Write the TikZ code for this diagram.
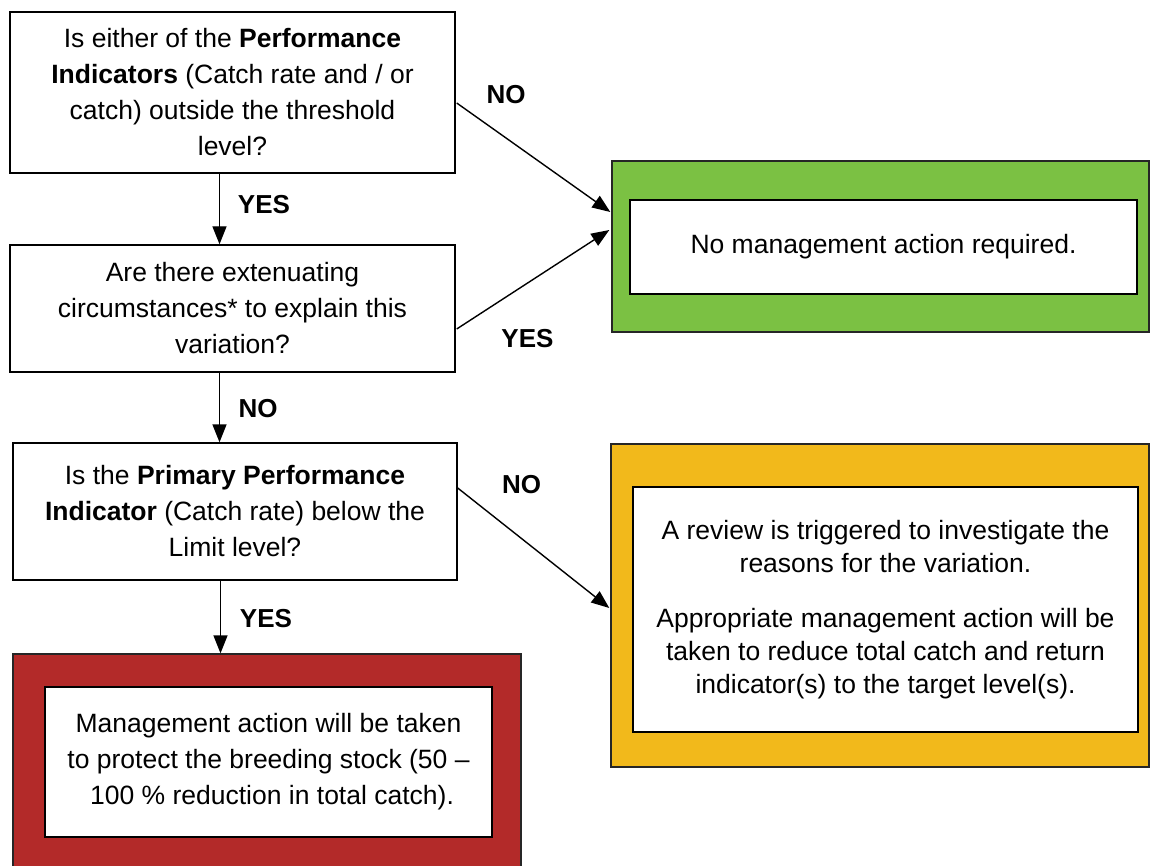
\documentclass[tikz,border=0pt]{standalone}
\usepackage{fontspec}
\setmainfont{Liberation Sans}
\usetikzlibrary{arrows.meta,calc}
\definecolor{gfill}{RGB}{123,193,67}
\definecolor{ofill}{RGB}{242,185,27}
\definecolor{rfill}{RGB}{179,42,41}
\begin{document}
\begin{tikzpicture}[x=1pt,y=-1pt,
  txt/.style={font=\fontsize{26.5}{36}\selectfont, align=center, text=black},
  qbox/.style={txt, draw=black, line width=1.4pt, fill=white, inner sep=0pt},
  outerbox/.style={draw=black!85, line width=1.4pt, inner sep=0pt},
  lbl/.style={font=\fontsize{26}{28}\selectfont\bfseries, inner sep=0pt},
  arr/.style={line width=1.4pt, -{Triangle[length=18pt,width=14pt]}}]
\useasboundingbox (0,0) rectangle (1150,866);
% question boxes
\node[qbox, minimum width=445pt, minimum height=161pt] (b1) at (232.5,92.5)
  {Is either of the \textbf{Performance}\\ \textbf{Indicators} (Catch rate and / or\\ catch) outside the threshold\\ level?};
\node[qbox, minimum width=445pt, minimum height=127pt] (b2) at (232.5,308.5)
  {Are there extenuating\\ circumstances* to explain this\\ variation?};
\node[qbox, minimum width=444pt, minimum height=137pt] (b3) at (235,511.5)
  {Is the \textbf{Primary Performance}\\ \textbf{Indicator} (Catch rate) below the\\ Limit level?};
% outcome boxes
\node[outerbox, fill=gfill, minimum width=537pt, minimum height=171pt] (gout) at (880.5,246.5) {};
\node[qbox, minimum width=507pt, minimum height=94pt] (gin) at (883.5,247)
  {No management action required.};
\node[outerbox, fill=ofill, minimum width=538pt, minimum height=323pt] (oout) at (880,605.5) {};
\node[qbox, font=\fontsize{26.5}{33}\selectfont, minimum width=505pt, minimum height=245pt] (oin) at (885.5,609.5)
  {A review is triggered to investigate the\\ reasons for the variation.\\[22pt] Appropriate management action will be\\ taken to reduce total catch and return\\ indicator(s) to the target level(s).};
\node[outerbox, fill=rfill, minimum width=508pt, minimum height=214pt] (rout) at (267,761) {};
\node[qbox, minimum width=447pt, minimum height=150pt] (rin) at (268.5,762)
  {Management action will be taken\\ to protect the breeding stock (50 --\\ \hspace*{7pt}100 \% reduction in total catch).};
% connectors
\coordinate (ax) at (219.5,0);
\coordinate (ax2) at (220.5,0);
\draw[arr] (b1.south -| ax) -- (b2.north -| ax);
\draw[arr] (b2.south -| ax) -- (b3.north -| ax);
\draw[arr] (b3.south -| ax2) -- (rout.north -| ax2);
\draw[arr] ($(b1.east)+(1,10.5)$) -- ($(gout.west)+(-1,-34.5)$);
\draw[arr] ($(b2.east)+(1,20.5)$) -- ($(gout.west)+(-2,-16.5)$);
\draw[arr] ($(b3.east)+(0,-23.5)$) -- ($(oout.west)+(-1,2.5)$);
% labels
\node[lbl] (l1) at (506,95) {NO};
\node[lbl] (l2) at (264,205) {YES};
\node[lbl] (l3) at (527.5,339) {YES};
\node[lbl] (l4) at (258,409) {NO};
\node[lbl] (l5) at (521.5,485) {NO};
\node[lbl] (l6) at (266,619) {YES};
\end{tikzpicture}
\end{document}
